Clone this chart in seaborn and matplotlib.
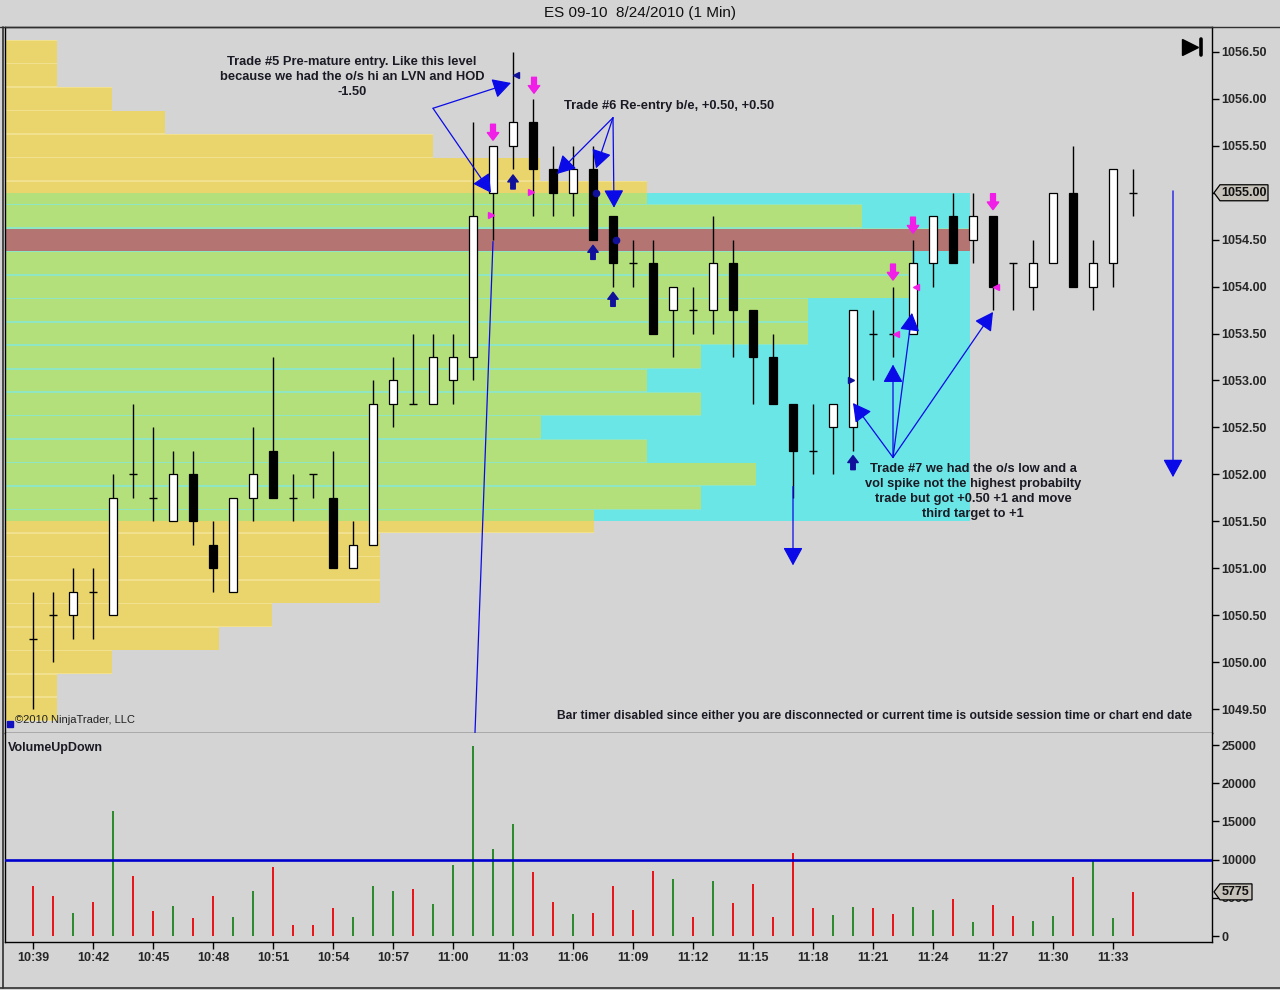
import numpy as np
import pandas as pd
import matplotlib
matplotlib.use('Agg')
import matplotlib.pyplot as plt
from matplotlib.patches import Rectangle, Polygon
import seaborn as sns

# ES 09-10, 8/24/2010, 1 minute bars from 10:39
start = '2010-08-24 10:39'
opens  = [1050.25, 1050.5, 1050.5, 1050.75, 1050.5, 1052.0, 1051.75, 1051.5, 1052.0, 1051.25,
          1050.75, 1051.75, 1052.25, 1051.75, 1052.0, 1051.75, 1051.0, 1051.25, 1052.75, 1052.75,
          1052.75, 1053.0, 1053.25, 1055.0, 1055.5, 1055.75, 1055.25, 1055.0, 1055.25, 1054.75,
          1054.25, 1054.25, 1053.75, 1053.75, 1053.75, 1054.25, 1053.75, 1053.25, 1052.75, 1052.25,
          1052.5, 1052.5, 1053.5, 1053.5, 1053.5, 1054.25, 1054.75, 1054.5, 1054.75, 1054.25,
          1054.0, 1054.25, 1055.0, 1054.0, 1054.25, 1055.0]
highs  = [1050.75, 1050.75, 1051.0, 1051.0, 1052.0, 1052.75, 1052.5, 1052.25, 1052.25, 1051.5,
          1051.75, 1052.5, 1053.25, 1052.0, 1052.0, 1052.25, 1051.5, 1053.0, 1053.25, 1053.5,
          1053.5, 1053.5, 1055.75, 1055.5, 1056.5, 1056.0, 1055.5, 1055.5, 1055.5, 1054.75,
          1054.5, 1054.5, 1054.0, 1054.0, 1054.75, 1054.5, 1053.75, 1053.5, 1052.75, 1052.75,
          1052.75, 1053.75, 1053.75, 1054.0, 1054.5, 1054.75, 1055.0, 1055.0, 1054.75, 1054.25,
          1054.5, 1055.0, 1055.5, 1054.5, 1055.25, 1055.25]
lows   = [1049.5, 1050.0, 1050.25, 1050.25, 1050.5, 1051.75, 1051.5, 1051.5, 1051.25, 1050.75,
          1050.75, 1051.5, 1051.75, 1051.5, 1051.75, 1051.0, 1051.0, 1051.25, 1052.5, 1052.75,
          1052.75, 1052.75, 1053.0, 1054.5, 1055.25, 1054.75, 1054.75, 1054.75, 1054.5, 1054.0,
          1054.0, 1053.5, 1053.25, 1053.5, 1053.5, 1053.25, 1052.75, 1052.75, 1051.75, 1052.0,
          1052.0, 1052.25, 1053.0, 1053.25, 1053.5, 1054.0, 1054.25, 1054.25, 1053.75, 1053.75,
          1053.75, 1054.25, 1054.0, 1053.75, 1054.0, 1054.75]
closes = [1050.25, 1050.5, 1050.75, 1050.75, 1051.75, 1052.0, 1051.75, 1052.0, 1051.5, 1051.0,
          1051.75, 1052.0, 1051.75, 1051.75, 1052.0, 1051.0, 1051.25, 1052.75, 1053.0, 1052.75,
          1053.25, 1053.25, 1054.75, 1055.5, 1055.75, 1055.25, 1055.0, 1055.25, 1054.5, 1054.25,
          1054.25, 1053.5, 1054.0, 1053.75, 1054.25, 1053.75, 1053.25, 1052.75, 1052.25, 1052.25,
          1052.75, 1053.75, 1053.5, 1053.5, 1054.25, 1054.75, 1054.25, 1054.75, 1054.0, 1054.25,
          1054.25, 1055.0, 1054.0, 1054.25, 1055.25, 1055.0]
volume = [6600, 5200, 3000, 4450, 16400, 7900, 3250, 3900, 2400, 5200,
          2500, 5900, 9000, 1400, 1400, 3700, 2500, 6500, 5900, 6150,
          4150, 9350, 24900, 11400, 14700, 8350, 4450, 2850, 3000, 6600,
          3400, 8500, 7400, 2500, 7200, 4300, 6750, 2500, 10800, 3700,
          2700, 3800, 3700, 2850, 3800, 3400, 4850, 1800, 4050, 2650,
          1950, 2650, 7700, 9800, 2400, 5775]
vol_line = 10000

# volume profile (length in bar widths) per 0.25 price row, top to bottom
profile_price = np.arange(1056.5, 1049.4, -0.25)
profile_len = [2.6, 2.6, 5.35, 8.0, 21.4, 26.75, 32.1, 42.85, 48.25, 45.35,
               45.25, 40.15, 40.15, 34.8, 32.1, 34.8, 26.8, 32.1, 37.55, 34.8,
               29.45, 18.75, 18.75, 18.75, 13.35, 10.7, 5.35, 2.6, 2.6]
va_low, va_high, poc = 1051.5, 1055.0, 1054.5
va_box_end = 46.85

# trade markers (bar index, price)
pink_down = [(23, 1055.56), (25.05, 1056.06), (44, 1054.57), (43, 1054.07), (48, 1054.82)]
blue_up = [(24, 1055.19), (28, 1054.44), (29, 1053.94), (41, 1052.2)]
pink_right = [(22.9, 1054.76), (24.9, 1055.01)]
pink_left = [(43.15, 1053.5), (44.15, 1054.0), (48.15, 1054.0)]
blue_right = [(40.9, 1053.0)]
blue_left = [(24.15, 1056.25)]
blue_dot = [(28.15, 1055.0), (29.15, 1054.5)]

notes = [
    ('Trade #5 Pre-mature entry. Like this level\nbecause we had the o/s hi an LVN and HOD\n-1.50',
     (15.95, 1056.23), 'center', (20.0, 1055.9), [(23.9, 1056.17), (22.9, 1055.0)]),
    ('Trade #6 Re-entry b/e, +0.50, +0.50',
     (26.55, 1055.92), 'left', (29.0, 1055.8), [(26.2, 1055.2), (28.15, 1055.26), (29.05, 1054.84)]),
    ('Trade #7 we had the o/s low and a\nvol spike not the highest probabilty\ntrade but got +0.50 +1 and move\nthird target to +1',
     (47.0, 1051.82), 'center', (43.0, 1052.18),
     [(41.0, 1052.76), (43.0, 1053.17), (43.95, 1053.72), (48.0, 1053.73)]),
]
down_arrows = [(38, 1051.87, 1051.03), (57, 1055.02, 1051.97)]
plain_line = [(23.0, 1054.48), (22.1, 1049.25)]

bg = '#d4d4d4'
c_out, c_out_sep = '#e9d56b', '#f1e08e'
c_va, c_va_sep = '#b4e07b', '#8ee6c2'
c_poc = '#b47472'
c_cyan = '#6be6e6'
c_arrow = '#0a0ae8'
c_pink = '#f01ee6'
c_navy = '#10109a'
c_text = '#1a1a24'

sns.set_theme(style='white', rc={'axes.facecolor': bg, 'figure.facecolor': bg})
plt.rcParams['font.family'] = ['Liberation Sans', 'DejaVu Sans']

n = len(closes)
idx = np.arange(n)
bars = pd.DataFrame({'i': idx, 'open': opens, 'high': highs, 'low': lows,
                     'close': closes, 'volume': volume})
bars['dir'] = np.where(bars['close'] > bars['open'], 'up', 'down')
bars['time'] = pd.date_range(start, periods=n, freq='1min').strftime('%H:%M')

fig = plt.figure(figsize=(12.8, 9.9), dpi=100)
ax = fig.add_axes([5 / 1280, 1 - 733 / 990, 1207 / 1280, 706 / 990])
ax2 = fig.add_axes([5 / 1280, 1 - 942 / 990, 1207 / 1280, 209 / 990], sharex=ax)

x0 = -1.4
ax.set_xlim(x0, 58.95)
ax.set_ylim(1049.2445, 1056.766)

# value area box
ax.add_patch(Rectangle((x0, va_low), va_box_end - x0, va_high - va_low,
                       facecolor=c_cyan, edgecolor='none', zorder=0.5))

# volume profile rows
gap = 0.017
for p, w in zip(profile_price, profile_len):
    lo, hi = p - 0.125, p + 0.125
    segs = []
    a, b = max(lo, va_low), min(hi, va_high)
    if b > a:
        segs.append((a, b, c_poc if abs(p - poc) < 1e-9 else c_va, c_va_sep))
    if lo < va_low:
        segs.append((lo, min(hi, va_low), c_out, c_out_sep))
    if hi > va_high:
        segs.append((max(lo, va_high), hi, c_out, c_out_sep))
    for a, b, col, sep in segs:
        ax.barh(a, w, left=x0, height=b - a, align='edge', color=sep, lw=0, zorder=1)
        a2 = a + gap / 2 if abs(a - lo) < 1e-9 else a
        b2 = b - gap / 2 if abs(b - hi) < 1e-9 else b
        ax.barh(a2, w, left=x0, height=b2 - a2, align='edge', color=col, lw=0, zorder=1.1)

# candles
ax.vlines(bars['i'], bars['low'], bars['high'], color='black', lw=1, zorder=3)
body = bars[bars['open'] != bars['close']]
ax.bar(body['i'], (body['close'] - body['open']).abs(),
       bottom=body[['open', 'close']].min(axis=1), width=0.42,
       color=np.where(body['dir'] == 'up', 'white', 'black'),
       edgecolor='black', lw=0.9, zorder=3.2)
doji = bars[bars['open'] == bars['close']]
ax.hlines(doji['close'], doji['i'] - 0.22, doji['i'] + 0.22, color='black', lw=1, zorder=3.2)

# drawn arrows and notes
ax.plot([plain_line[0][0], plain_line[1][0]], [plain_line[0][1], plain_line[1][1]],
        color=c_arrow, lw=0.9, zorder=2.5)
head = dict(arrowstyle='-|>,head_length=0.62,head_width=0.34', color=c_arrow, lw=0.9,
            mutation_scale=18, shrinkA=0, shrinkB=0)
for txt, pos, ha, origin, tips in notes:
    ax.text(pos[0], pos[1], txt, ha=ha, va='center', fontsize=9.3, fontweight='bold',
            color=c_text, linespacing=1.32, zorder=6)
    for t in tips:
        ax.annotate('', xy=t, xytext=origin, arrowprops=head, zorder=5)
for xi, ya, yb in down_arrows:
    ax.annotate('', xy=(xi, yb), xytext=(xi, ya), arrowprops=head, zorder=5)

thick = 'simple,head_length=0.5,head_width=0.75,tail_width=0.32'
for xi, yt in pink_down:
    ax.annotate('', xy=(xi, yt), xytext=(xi, yt + 0.17),
                arrowprops=dict(arrowstyle=thick, color=c_pink, mutation_scale=11,
                                shrinkA=0, shrinkB=0), zorder=5)
for xi, yt in blue_up:
    ax.annotate('', xy=(xi, yt), xytext=(xi, yt - 0.15),
                arrowprops=dict(arrowstyle=thick, color=c_navy, mutation_scale=10,
                                shrinkA=0, shrinkB=0), zorder=5)
for pts, mk, col in [(pink_right, '>', c_pink), (pink_left, '<', c_pink),
                     (blue_right, '>', c_navy), (blue_left, '<', c_navy),
                     (blue_dot, 'o', c_navy)]:
    ax.plot([p[0] for p in pts], [p[1] for p in pts], ls='none', marker=mk,
            ms=4.5, color=col, mec=col, zorder=5.5)

# go-to-end icon
ax.plot([0.9818], [0.9717], marker='>', ms=11, color='black', transform=ax.transAxes,
        clip_on=False, zorder=7)
ax.plot([0.9905, 0.9905], [0.9605, 0.983], color='black', lw=2.6, transform=ax.transAxes,
        zorder=7)

ax.plot([0.0045], [0.0125], marker='s', ms=5, color='#1010c0', transform=ax.transAxes,
        zorder=7)
ax.text(0.0085, 0.012, '\u00a92010 NinjaTrader, LLC', transform=ax.transAxes, fontsize=8,
        color='#202020', ha='left', va='bottom', zorder=7)
ax.text(57.95, 1049.426, 'Bar timer disabled since either you are disconnected or current '
        'time is outside session time or chart end date', ha='right', va='center',
        fontsize=8.75, fontweight='bold', color=c_text, zorder=7)

# price axis
ax.yaxis.tick_right()
ax.set_yticks(np.arange(1049.5, 1056.6, 0.5))
ax.set_yticklabels([f'{v:.2f}' for v in np.arange(1049.5, 1056.6, 0.5)],
                   fontsize=9, fontweight='bold')
ax.tick_params(axis='y', right=True, length=5, width=1, color='black', pad=2)
ax.tick_params(axis='x', bottom=False, labelbottom=False)

# volume panel
sns.barplot(data=bars, x='i', y='volume', hue='dir', native_scale=True, dodge=False,
            palette={'up': '#2e8a2e', 'down': '#e8161a'}, width=0.13, legend=False,
            saturation=1, linewidth=0, edgecolor='none', ax=ax2)
ax2.axhline(vol_line, color='#0000cc', lw=1.9, zorder=3)
ax2.set_ylim(-785, 26571)
ax2.set_xlim(x0, 58.95)
ax2.yaxis.tick_right()
ax2.set_yticks([0, 5000, 10000, 15000, 20000, 25000])
ax2.set_yticklabels(['0', '5000', '10000', '15000', '20000', '25000'],
                    fontsize=9, fontweight='bold')
ax2.tick_params(axis='y', right=True, length=5, width=1, color='black', pad=2)
tick_i = bars['i'][::3]
ax2.set_xticks(tick_i)
ax2.set_xticklabels(bars['time'][::3], fontsize=9, fontweight='bold')
ax2.tick_params(axis='x', bottom=True, length=5, width=1, color='black', pad=2)
ax2.set_xlabel('')
ax2.set_ylabel('')
ax2.text(0.002, 0.93, 'VolumeUpDown', transform=ax2.transAxes, fontsize=9,
         fontweight='bold', color=c_text, ha='left', va='center')

for a in (ax, ax2):
    for s in a.spines.values():
        s.set_color('black')
        s.set_linewidth(1)
ax2.spines['top'].set_visible(False)


def value_tag(axis, value, label, width_px):
    # grey tag with a left notch on the right price scale
    xr = axis.transAxes.transform((1, 0))[0]
    yv = axis.transData.transform((0, value))[1]
    tip = xr + 2
    pts = [(tip, yv), (tip + 6, yv + 8), (tip + width_px, yv + 8),
           (tip + width_px, yv - 8), (tip + 6, yv - 8)]
    fig.patches.append(Polygon(pts, closed=True, transform=None, facecolor='#c6c2ba',
                               edgecolor='black', lw=0.9, zorder=8))
    fig.text((tip + (6 + width_px) / 2) / fig.bbox.width, yv / fig.bbox.height, label,
             ha='center', va='center', fontsize=9, fontweight='bold', color='#101010',
             zorder=9)


value_tag(ax, closes[-1], f'{closes[-1]:.2f}', 54)
value_tag(ax2, volume[-1], f'{volume[-1]}', 38)

fig.text(0.5, 1 - 13 / 990, 'ES 09-10  8/24/2010 (1 Min)', ha='center', va='center',
         fontsize=11, color='#101010')
fig.add_artist(plt.Line2D([0, 1], [1 - 27 / 990] * 2, color='#303030', lw=1))
fig.add_artist(plt.Line2D([0.002, 0.002], [0.002, 1 - 27 / 990], color='#303030', lw=1.2))
fig.add_artist(plt.Line2D([0, 1], [0.002, 0.002], color='#303030', lw=1.2))

fig.savefig('out.png', dpi=100, facecolor=bg)
